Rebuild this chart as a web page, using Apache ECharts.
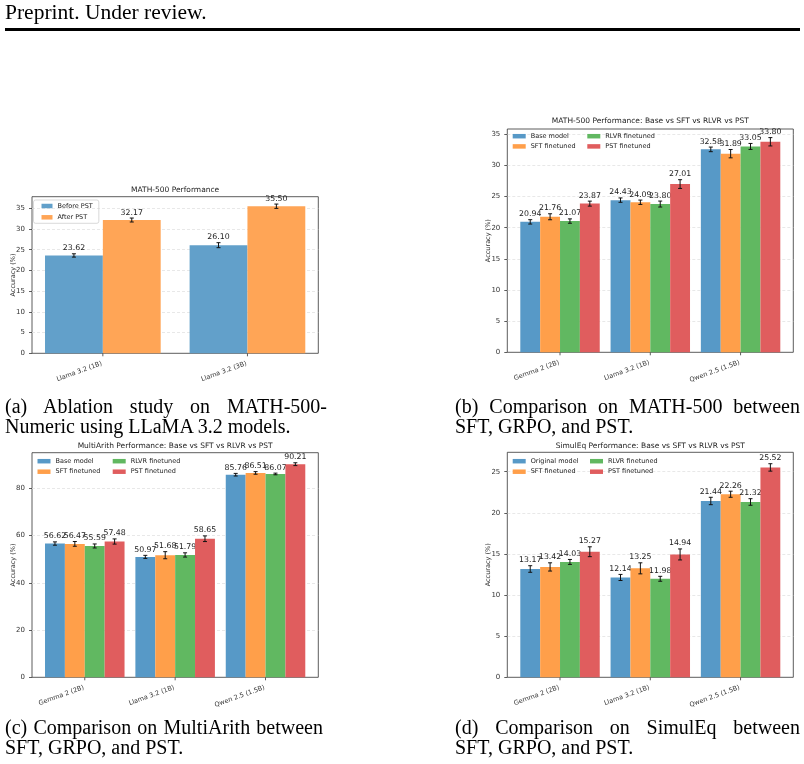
<!DOCTYPE html>
<html lang="en">
<head>
<meta charset="UTF-8">
<title>PST accuracy comparison</title>
<script src="https://cdn.jsdelivr.net/npm/echarts@6.0.0/dist/echarts.min.js"></script>
<style>
    body { margin: 0; background: #fff; }
    #main { position: absolute; left: 0; top: 0; width: 804px; height: 764px; }
    .txt { position: absolute; font-family: "Liberation Serif", serif; color: #000; z-index: 2; white-space: nowrap; }
    .head { left: 5px; top: 2px; font-size: 21.5px; line-height: 21px; }
    .rule { position: absolute; left: 5px; top: 28px; width: 795px; height: 3px; background: #000; }
    .cap { font-size: 20px; line-height: 19.5px; }
    .cap .l1 { text-align: justify; text-align-last: justify; }
</style>
</head>
<body>
<div id="main"></div>
<div class="txt head">Preprint. Under review.</div>
<div class="rule"></div>
<div class="txt cap" style="left:5px; top:397px; width:322px;">
    <div class="l1">(a) Ablation study on MATH-500-</div>
    <div>Numeric using LLaMA 3.2 models.</div>
</div>
<div class="txt cap" style="left:455px; top:397px; width:345px;">
    <div class="l1">(b) Comparison on MATH-500 between</div>
    <div>SFT, GRPO, and PST.</div>
</div>
<div class="txt cap" style="left:5px; top:718px; width:318px;">
    <div class="l1">(c) Comparison on MultiArith between</div>
    <div>SFT, GRPO, and PST.</div>
</div>
<div class="txt cap" style="left:455px; top:718px; width:345px;">
    <div class="l1">(d) Comparison on SimulEq between</div>
    <div>SFT, GRPO, and PST.</div>
</div>
<script>
    // (a) ablation, LLaMA 3.2
    var llamaCats = ['Llama 3.2 (1B)', 'Llama 3.2 (3B)'];
    var beforePst = [23.62, 26.10];
    var beforePstErr = [0.40, 0.60];
    var afterPst = [32.17, 35.50];
    var afterPstErr = [0.48, 0.52];

    var modelCats = ['Gemma 2 (2B)', 'Llama 3.2 (1B)', 'Qwen 2.5 (1.5B)'];

    // (b) MATH-500
    var mathBase = [20.94, 24.43, 32.58];
    var mathBaseErr = [0.35, 0.35, 0.37];
    var mathSft = [21.76, 24.09, 31.89];
    var mathSftErr = [0.48, 0.35, 0.67];
    var mathRlvr = [21.07, 23.80, 33.05];
    var mathRlvrErr = [0.35, 0.48, 0.48];
    var mathPst = [23.87, 27.01, 33.80];
    var mathPstErr = [0.40, 0.70, 0.67];

    // (c) MultiArith
    var arithBase = [56.62, 50.97, 85.76];
    var arithBaseErr = [0.70, 0.65, 0.55];
    var arithSft = [56.47, 51.68, 86.51];
    var arithSftErr = [1.00, 1.50, 0.55];
    var arithRlvr = [55.59, 51.79, 86.07];
    var arithRlvrErr = [0.85, 0.90, 0.35];
    var arithPst = [57.48, 58.65, 90.21];
    var arithPstErr = [1.10, 1.20, 0.60];

    // (d) SimulEq
    var eqBase = [13.17, 12.14, 21.44];
    var eqBaseErr = [0.40, 0.37, 0.45];
    var eqSft = [13.42, 13.25, 22.26];
    var eqSftErr = [0.50, 0.67, 0.37];
    var eqRlvr = [14.03, 11.98, 21.32];
    var eqRlvrErr = [0.30, 0.30, 0.40];
    var eqPst = [15.27, 14.94, 25.52];
    var eqPstErr = [0.60, 0.67, 0.45];

    // y tick steps (labels 0..35, 0..80, 0..25)
    var stepMath = 5;
    var stepArith = 20;
    var stepEq = 5;

    var FONT = 'DejaVu Sans';
    var C2 = ['#62a0ca', '#ffa556'];
    var C4 = ['#5799c7', '#ff9f4a', '#61b861', '#e05d5e'];
    var ROT = 20 * Math.PI / 180;

    var panels = [
        { left: 32, top: 196.7, width: 286.3, height: 156.6, yMax: 37.8, step: stepMath,
          xMin: -0.49, xMax: 1.49, barW: 0.4, cats: llamaCats, title: 'MATH-500 Performance', titleY: 190, labelX: 13.3,
          bars: [['Before PST', beforePst, beforePstErr], ['After PST', afterPst, afterPstErr]], colors: C2 },
        { left: 507.3, top: 129, width: 286, height: 223.3, yMax: 35.85, step: stepMath,
          xMin: -0.584, xMax: 2.584, barW: 0.22, cats: modelCats, title: 'MATH-500 Performance: Base vs SFT vs RLVR vs PST', titleY: 121, labelX: 488.3,
          bars: [['Base model', mathBase, mathBaseErr], ['SFT finetuned', mathSft, mathSftErr],
                 ['RLVR finetuned', mathRlvr, mathRlvrErr], ['PST finetuned', mathPst, mathPstErr]], colors: C4 },
        { left: 32, top: 452.7, width: 286.3, height: 224.6, yMax: 95.07, step: stepArith,
          xMin: -0.584, xMax: 2.584, barW: 0.22, cats: modelCats, title: 'MultiArith Performance: Base vs SFT vs RLVR vs PST', titleY: 446, labelX: 13.3,
          bars: [['Base model', arithBase, arithBaseErr], ['SFT finetuned', arithSft, arithSftErr],
                 ['RLVR finetuned', arithRlvr, arithRlvrErr], ['PST finetuned', arithPst, arithPstErr]], colors: C4 },
        { left: 507.3, top: 452.3, width: 286, height: 225, yMax: 27.36, step: stepEq,
          xMin: -0.584, xMax: 2.584, barW: 0.22, cats: modelCats, title: 'SimulEq Performance: Base vs SFT vs RLVR vs PST', titleY: 446, labelX: 488.3,
          bars: [['Original model', eqBase, eqBaseErr], ['SFT finetuned', eqSft, eqSftErr],
                 ['RLVR finetuned', eqRlvr, eqRlvrErr], ['PST finetuned', eqPst, eqPstErr]], colors: C4 }
    ];

    var grids = [], xAxes = [], yAxes = [], series = [], graphics = [];

    panels.forEach(function (p, idx) {
        grids.push({
            left: p.left, top: p.top, width: p.width, height: p.height,
            show: true, borderColor: '#333', borderWidth: 0.8, backgroundColor: 'transparent',
            containLabel: false, outerBoundsMode: 'none'
        });
        // x axis only gives the scale; ticks and names are drawn by the first series
        xAxes.push({
            gridIndex: idx, type: 'value', min: p.xMin, max: p.xMax,
            axisLine: { show: false, onZero: false }, splitLine: { show: false },
            axisTick: { show: false }, axisLabel: { show: false }
        });
        // onZero off, otherwise the y ticks sit at x = 0 inside the plot
        yAxes.push({
            gridIndex: idx, type: 'value', min: 0, max: p.yMax, interval: p.step,
            axisLine: { show: false, onZero: false },
            axisTick: { length: 3, lineStyle: { color: '#333', width: 0.8 } },
            axisLabel: { showMaxLabel: false, margin: 7, fontSize: 7, color: '#333', fontFamily: FONT },
            splitLine: { show: true, showMinLine: false, showMaxLine: false,
                         lineStyle: { color: '#e2e2e2', width: 0.8, type: [3, 2] } }
        });

        var n = p.bars.length;
        p.bars.forEach(function (b, k) {
            var off = (k - (n - 1) / 2) * p.barW;
            var w = p.barW;
            series.push({
                type: 'custom',
                name: b[0],
                xAxisIndex: idx,
                yAxisIndex: idx,
                itemStyle: { color: p.colors[k] },
                encode: { x: 0, y: 1 },
                clip: false,
                data: b[1].map(function (v, i) { return [i + off, v, b[2][i], i]; }),
                renderItem: function (params, api) {
                    var x = api.value(0), v = api.value(1), e = api.value(2), ci = api.value(3);
                    var tl = api.coord([x - w / 2, v]);
                    var br = api.coord([x + w / 2, 0]);
                    var hi = api.coord([x, v + e]);
                    var lo = api.coord([x, v - e]);
                    var ink = { stroke: '#111', lineWidth: 1 };
                    var kids = [
                        { type: 'rect', shape: { x: tl[0], y: tl[1], width: br[0] - tl[0], height: br[1] - tl[1] },
                          style: { fill: api.visual('color') } },
                        { type: 'line', shape: { x1: hi[0], y1: hi[1], x2: lo[0], y2: lo[1] }, style: ink },
                        { type: 'line', shape: { x1: hi[0] - 2, y1: hi[1], x2: hi[0] + 2, y2: hi[1] }, style: ink },
                        { type: 'line', shape: { x1: lo[0] - 2, y1: lo[1], x2: lo[0] + 2, y2: lo[1] }, style: ink },
                        { type: 'text', x: hi[0], y: hi[1] - 1.5,
                          style: { text: v.toFixed(2), align: 'center', verticalAlign: 'bottom',
                                   fontSize: 7.8, fontFamily: FONT, fill: '#222' } }
                    ];
                    if (k === 0) {
                        // category tick and rotated name
                        var c = api.coord([ci, 0]);
                        kids.push({ type: 'line', shape: { x1: c[0], y1: c[1], x2: c[0], y2: c[1] + 3 },
                                    style: { stroke: '#333', lineWidth: 0.8 } });
                        kids.push({ type: 'text', x: c[0] - 1, y: c[1] + 10, rotation: ROT,
                                    style: { text: p.cats[ci], align: 'right', verticalAlign: 'middle',
                                             fontSize: 6.5, fontFamily: FONT, fill: '#333' } });
                    }
                    return { type: 'group', children: kids };
                }
            });
        });

        // subplot title and y axis name
        graphics.push({
            type: 'text', x: p.left + p.width / 2, y: p.titleY,
            style: { text: p.title, align: 'center', verticalAlign: 'middle', fontSize: 7.5, fontFamily: FONT, fill: '#222' }
        });
        graphics.push({
            type: 'text', x: p.labelX, y: p.top + p.height / 2, rotation: Math.PI / 2,
            style: { text: 'Accuracy (%)', align: 'center', verticalAlign: 'middle', fontSize: 6.5, fontFamily: FONT, fill: '#333' }
        });
    });

    var legendBase = {
        orient: 'vertical', icon: 'rect', itemWidth: 13, itemHeight: 4.5, padding: 0,
        selectedMode: false,
        textStyle: { fontSize: 6.5, fontFamily: FONT, color: '#222' }
    };
    function mkLegend(extra) {
        return Object.assign({}, legendBase, extra);
    }

    var chart = echarts.init(document.getElementById('main'));
    chart.setOption({
        animation: false,
        backgroundColor: 'transparent',
        grid: grids,
        xAxis: xAxes,
        yAxis: yAxes,
        series: series,
        graphic: graphics,
        legend: [
            mkLegend({ data: ['Before PST', 'After PST'], left: 33.5, top: 200, itemWidth: 11, itemGap: 4.3,
                       padding: [2.5, 6, 2.5, 8], borderColor: '#cfcfcf', borderWidth: 0.8, borderRadius: 2 }),
            mkLegend({ data: ['Base model', 'SFT finetuned'], left: 512.7, top: 132.7, itemGap: 3.2 }),
            mkLegend({ data: ['RLVR finetuned', 'PST finetuned'], left: 587.3, top: 132.7, itemGap: 3.2 }),
            mkLegend({ data: ['Base model', 'SFT finetuned'], left: 37.5, top: 457.7, itemGap: 3.5 }),
            mkLegend({ data: ['RLVR finetuned', 'PST finetuned'], left: 112.7, top: 457.7, itemGap: 3.5 }),
            mkLegend({ data: ['Original model', 'SFT finetuned'], left: 512.7, top: 457.7, itemGap: 3.5 }),
            mkLegend({ data: ['RLVR finetuned', 'PST finetuned'], left: 590, top: 457.7, itemGap: 3.5 })
        ]
    });

    window.addEventListener('resize', function () {
        chart.resize();
    });
</script>
</body>
</html>
